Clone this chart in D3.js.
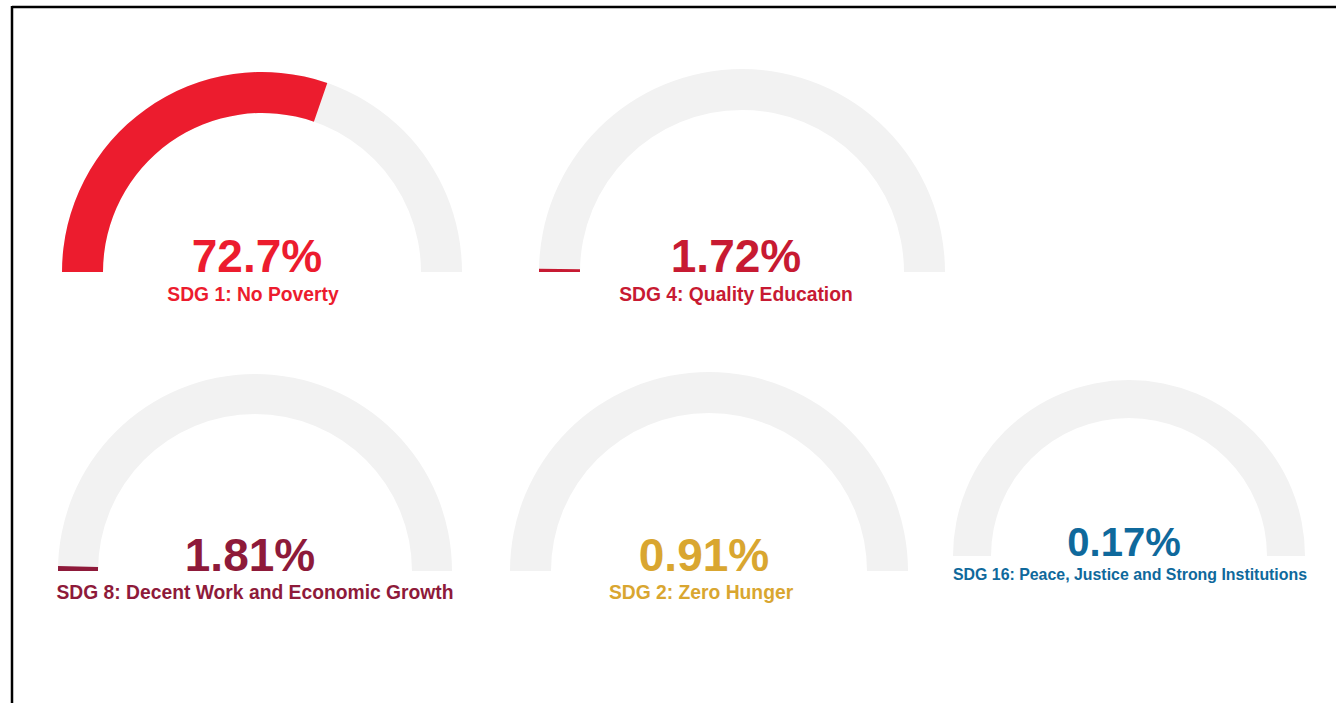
<!DOCTYPE html>
<html>
<head>
<meta charset="utf-8">
<script src="https://cdn.jsdelivr.net/npm/d3@7"></script>
<style>
  html, body { margin: 0; padding: 0; background: #fff; }
  svg { display: block; font-family: "Liberation Sans", Arial, sans-serif; }
</style>
</head>
<body>
<svg id="chart" width="1336" height="703"></svg>
<script>
// data
const labels = [
    'SDG 1: No Poverty',
    'SDG 4: Quality Education',
    'SDG 8: Decent Work and Economic Growth',
    'SDG 2: Zero Hunger',
    'SDG 16: Peace, Justice and Strong Institutions',
];
const values = [72.7, 1.72, 1.81, 0.91, 0.17];
const valueText = ['72.7%', '1.72%', '1.81%', '0.91%', '0.17%'];
// each gauge's upper bound (estimated from how far the fill reaches)
const gaugeMax = [120, 330, 220, 5000, 5000];

const colors = ['#ec1c2e', '#c71a32', '#8e1a3a', '#d9a630', '#0f699c'];

// where each gauge sits: centre, outer radius, band width, font sizes, text offsets
const layout = [
    { cx: 262, cy: 272, r: 200, band: 41, big: 46, small: 19.3, gap: 29, vx: -5, lx: -9 },
    { cx: 742, cy: 272, r: 203, band: 41, big: 46, small: 19.3, gap: 29, vx: -6, lx: -6 },
    { cx: 255, cy: 571, r: 197, band: 40, big: 46, small: 19.3, gap: 28, vx: -5, lx: 0 },
    { cx: 709, cy: 571, r: 199, band: 41, big: 46, small: 19.3, gap: 28, vx: -5, lx: -8 },
    { cx: 1129, cy: 556, r: 176, band: 38, big: 40, small: 15.9, gap: 24, vx: -5, lx: 1 },
];

const svg = d3.select('#chart');

// frame: top and left rules
svg.append('line').attr('x1', 12).attr('x2', 1336).attr('y1', 7).attr('y2', 7)
    .attr('stroke', '#000').attr('stroke-width', 2.5);
svg.append('line').attr('x1', 12).attr('x2', 12).attr('y1', 6).attr('y2', 703)
    .attr('stroke', '#000').attr('stroke-width', 2.5);

values.forEach((v, i) => {
    const L = layout[i];
    const angle = d3.scaleLinear().domain([0, gaugeMax[i]]).range([-Math.PI / 2, Math.PI / 2]);
    const arc = d3.arc().innerRadius(L.r - L.band).outerRadius(L.r);

    const g = svg.append('g').attr('transform', `translate(${L.cx},${L.cy})`);

    g.append('path')
        .attr('d', arc({ startAngle: -Math.PI / 2, endAngle: Math.PI / 2 }))
        .attr('fill', '#f2f2f2');

    g.append('path')
        .attr('d', arc({ startAngle: -Math.PI / 2, endAngle: angle(Math.min(v, gaugeMax[i])) }))
        .attr('fill', colors[i]);

    g.append('text')
        .attr('x', L.vx)
        .attr('y', 0)
        .attr('text-anchor', 'middle')
        .attr('font-size', L.big)
        .attr('font-weight', 'bold')
        .attr('fill', colors[i])
        .text(valueText[i]);

    g.append('text')
        .attr('x', L.lx)
        .attr('y', L.gap)
        .attr('text-anchor', 'middle')
        .attr('font-size', L.small)
        .attr('font-weight', 'bold')
        .attr('fill', colors[i])
        .text(labels[i]);
});
</script>
</body>
</html>
